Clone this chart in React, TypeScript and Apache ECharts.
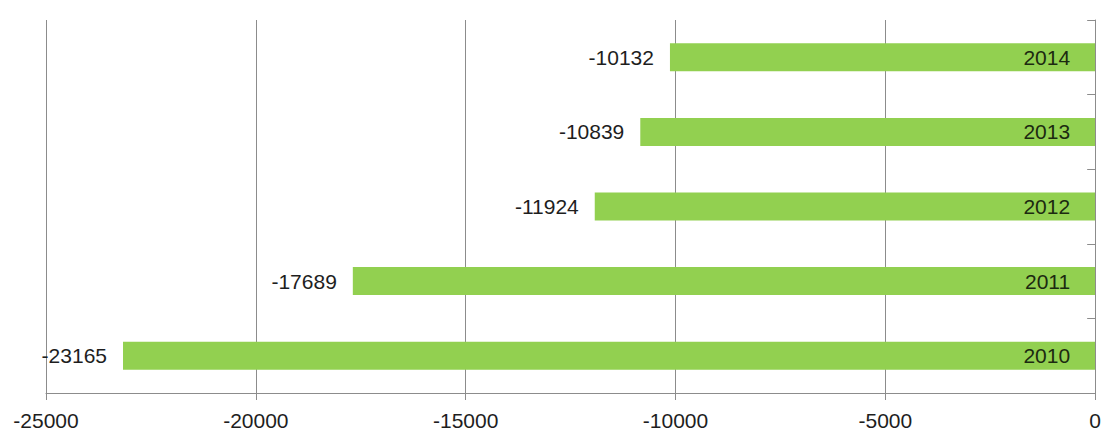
import React, { useEffect, useRef } from "react";
import * as echarts from "echarts";

const years = ["2010", "2011", "2012", "2013", "2014"];
const values = [-23165, -17689, -11924, -10839, -10132];
const xMin = -25000;
const xMax = 0;
const xStep = 5000;

export default function App() {
  const ref = useRef<HTMLDivElement>(null);
  useEffect(() => {
    if (!ref.current) return;
    const chart = echarts.init(ref.current, undefined, { renderer: "svg" });
    const font = "'Liberation Sans', Arial, sans-serif";
    chart.setOption({
      animation: false,
      backgroundColor: "#ffffff",
      grid: { left: 46, right: 6, top: 20, bottom: 42, containLabel: false },
      xAxis: {
        type: "value",
        min: xMin,
        max: xMax,
        interval: xStep,
        axisLine: { show: true, lineStyle: { color: "#8c8c8c", width: 1 } },
        axisTick: { show: true, length: 7, lineStyle: { color: "#8c8c8c" } },
        splitLine: { show: true, lineStyle: { color: "#8c8c8c", width: 1 } },
        axisLabel: {
          color: "#1e1e1e",
          fontSize: 21,
          fontFamily: font,
          margin: 17,
          formatter: (v: number) => String(v),
        },
      },
      yAxis: {
        type: "category",
        data: years,
        position: "right",
        axisLine: { show: true, lineStyle: { color: "#8c8c8c", width: 1 } },
        axisTick: { show: true, inside: true, length: 8, lineStyle: { color: "#8c8c8c" } },
        axisLabel: { inside: true, margin: 25, color: "#1c2a10", fontSize: 21, fontFamily: font },
        splitLine: { show: false },
        z: 5,
      },
      series: [
        {
          type: "bar",
          data: values,
          barWidth: "37.6%",
          itemStyle: { color: "#92D050" },
          label: {
            show: true,
            position: "left",
            distance: 16,
            color: "#1e1e1e",
            fontSize: 21,
            fontFamily: font,
          },
        },
      ],
    });
    return () => chart.dispose();
  }, []);
  return (
    <div
      ref={ref}
      style={{ position: "fixed", left: 0, top: 0, width: 1104, height: 435 }}
    />
  );
}
